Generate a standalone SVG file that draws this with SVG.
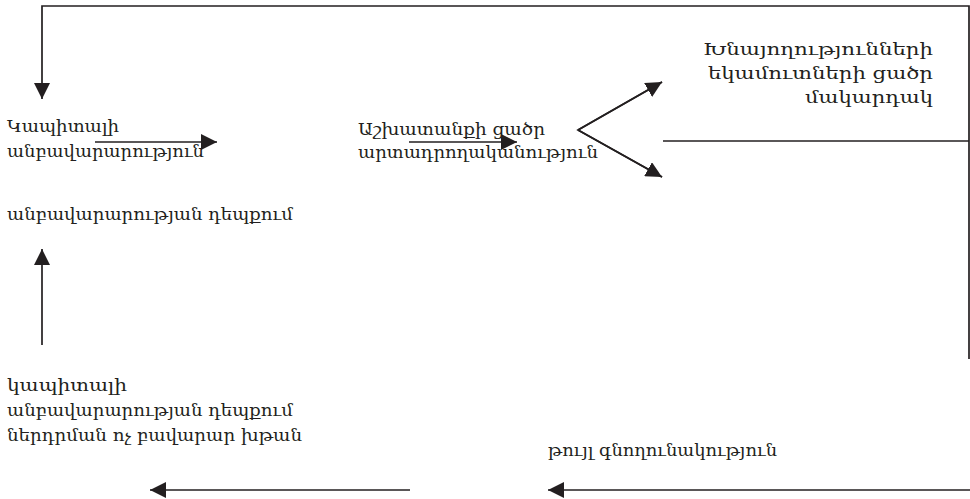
<svg xmlns="http://www.w3.org/2000/svg" width="970" height="499" viewBox="0 0 970 499">
<defs>
<marker id="ah" markerUnits="userSpaceOnUse" markerWidth="16" markerHeight="16" viewBox="0 0 16 16" refX="16" refY="8" orient="auto">
<path d="M0,0 L16,8 L0,16 Z" fill="#231f20"/>
</marker>
<style>
.t{font-family:"DejaVu Serif","Noto Sans",serif;font-size:16px;fill:#231f20}
.c{stroke:#231f20;stroke-width:1.7;fill:none}
.a{marker-end:url(#ah)}
</style>
</defs>
<rect width="970" height="499" fill="#fff"/>
<g id="connectors">
<path class="c a" d="M969,141 V6 H42 V99"/>
<line class="c" x1="969" y1="141" x2="969" y2="359"/>
<line class="c" x1="663" y1="141" x2="969" y2="141"/>
<line class="c a" x1="95" y1="142" x2="217" y2="142"/>
<line class="c a" x1="409" y1="142" x2="517" y2="142"/>
<path class="c" d="M662,82 L578,130 L662,177"/>
<line class="c a" x1="578" y1="130" x2="662" y2="82"/>
<line class="c a" x1="578" y1="130" x2="662" y2="177"/>
<line class="c a" x1="42" y1="345" x2="42" y2="249"/>
<line class="c a" x1="410" y1="490" x2="150" y2="490"/>
<line class="c a" x1="970" y1="490" x2="548" y2="490"/>
</g>
<g id="n1">
<text class="t" x="7" y="132" textLength="112" lengthAdjust="spacingAndGlyphs">Կապիտալի</text>
<text class="t" x="7" y="157" textLength="197" lengthAdjust="spacingAndGlyphs">անբավարարություն</text>
</g>
<g id="n2">
<text class="t" x="7" y="220" textLength="286" lengthAdjust="spacingAndGlyphs">անբավարարության դեպքում</text>
</g>
<g id="n3">
<text class="t" x="358" y="135" textLength="187" lengthAdjust="spacingAndGlyphs">Աշխատանքի ցածր</text>
<text class="t" x="358" y="158" textLength="240" lengthAdjust="spacingAndGlyphs">արտադրողականություն</text>
</g>
<g id="n4">
<text class="t" x="933" y="55" text-anchor="end" textLength="230" lengthAdjust="spacingAndGlyphs">Խնայողությունների</text>
<text class="t" x="933" y="79" text-anchor="end" textLength="225" lengthAdjust="spacingAndGlyphs">եկամուտների ցածր</text>
<text class="t" x="933" y="103" text-anchor="end" textLength="128" lengthAdjust="spacingAndGlyphs">մակարդակ</text>
</g>
<g id="n5">
<text class="t" x="7" y="391" textLength="120" lengthAdjust="spacingAndGlyphs">կապիտալի</text>
<text class="t" x="7" y="416" textLength="286" lengthAdjust="spacingAndGlyphs">անբավարարության դեպքում</text>
<text class="t" x="7" y="441" textLength="295" lengthAdjust="spacingAndGlyphs">ներդրման ոչ բավարար խթան</text>
</g>
<g id="n6">
<text class="t" x="548" y="456" textLength="229" lengthAdjust="spacingAndGlyphs">թույլ գնողունակություն</text>
</g>
</svg>
